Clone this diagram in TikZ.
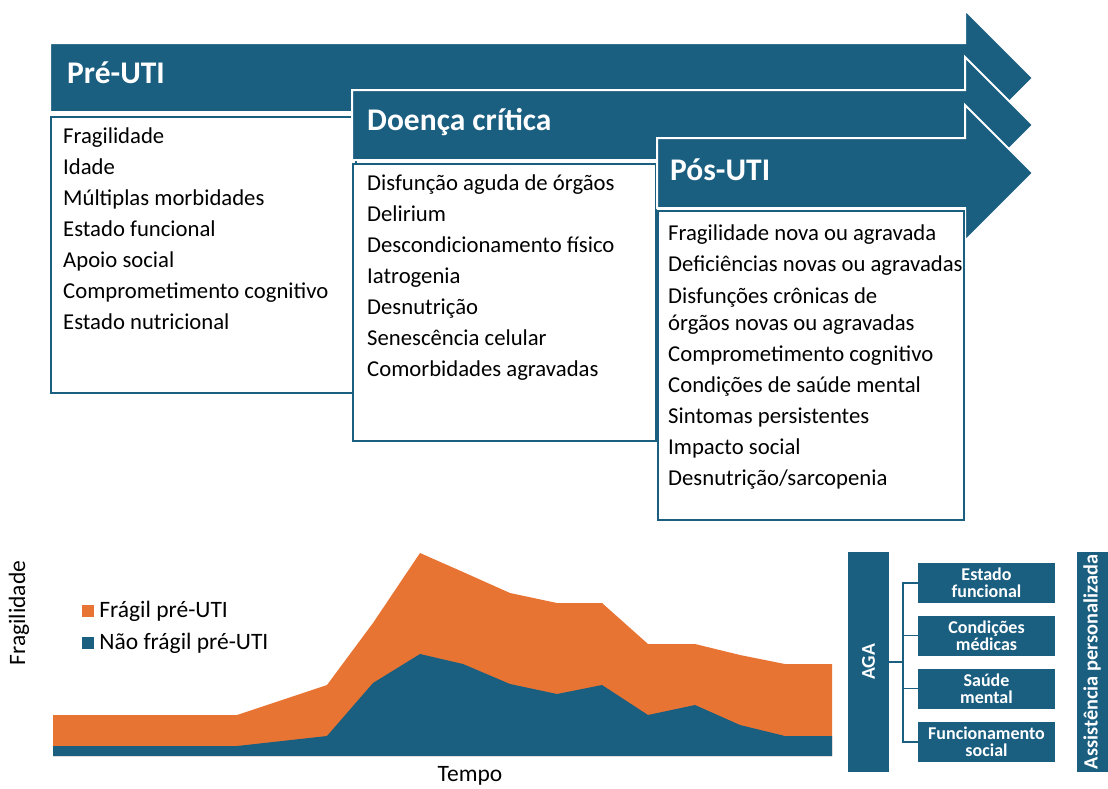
\documentclass[tikz,border=0pt]{standalone}
\usepackage{fontspec}
\setmainfont{Carlito}
\usetikzlibrary{positioning}
\definecolor{petrol}{RGB}{26,94,128}
\definecolor{laranja}{RGB}{232,116,51}
\tikzset{
  faixa/.style={fill=petrol, draw=white, line width=2pt},
  titulo/.style={anchor=base west, text=white, inner sep=0pt,
                 font=\fontsize{31.5}{34}\selectfont\bfseries},
  lista/.style={draw=petrol, line width=1.5pt, fill=white, anchor=north west, inner sep=0pt},
  itens/.style={anchor=north west, align=left, inner sep=0pt,
                font=\fontsize{22.7}{31}\selectfont},
  quad/.style={minimum size=12pt, inner sep=0pt},
  legenda/.style={inner sep=0pt, font=\fontsize{23.5}{26}\selectfont},
  bloco/.style={fill=petrol, text=white, align=center, inner sep=0pt,
                font=\fontsize{18}{17}\selectfont\bfseries},
  ligacao/.style={draw=petrol, line width=1.5pt}}

\begin{document}
\begin{tikzpicture}[x=1pt, y=-1pt]
  \useasboundingbox (0,0) rectangle (1108,788);
  % fases
  \path[faixa] (50,43) -- (965,43) -- (965,10) -- (1033,78) -- (965,146) -- (965,112) -- (50,112) -- cycle;
  \node[titulo] (tPre) at (67,83) {Pré-UTI};
  \node[lista, minimum width=305, minimum height=276] (cPre) at (50,116) {};
  \node[itens] (iPre) at ([xshift=13pt,yshift=-11.5pt]cPre.north west)
    {Fragilidade\\Idade\\Múltiplas morbidades\\Estado funcional\\Apoio social\\Comprometimento cognitivo\\Estado nutricional};

  \path[faixa] (352,90) -- (965,90) -- (965,57) -- (1033,125) -- (965,193) -- (965,160) -- (352,160) -- cycle;
  \node[titulo] (tDoenca) at (367,130) {Doença crítica};
  \node[lista, minimum width=303, minimum height=277] (cDoenca) at (352,163) {};
  \node[itens] (iDoenca) at ([xshift=15pt,yshift=-11.5pt]cDoenca.north west)
    {Disfunção aguda de órgãos\\Delirium\\Descondicionamento físico\\Iatrogenia\\Desnutrição\\Senescência celular\\Comorbidades agravadas};

  \path[faixa] (657,138) -- (965,138) -- (965,105) -- (1033,173) -- (965,241) -- (965,208) -- (657,208) -- cycle;
  \node[titulo] (tPos) at (670,180) {Pós-UTI};
  \node[lista, minimum width=306, minimum height=309] (cPos) at (657,210) {};
  \node[itens] (iPos) at ([xshift=11pt,yshift=-14.5pt]cPos.north west)
    {Fragilidade nova ou agravada\\Deficiências novas ou agravadas\\[1pt]Disfunções crônicas de\\[-4pt]órgãos novas ou agravadas\\Comprometimento cognitivo\\Condições de saúde mental\\Sintomas persistentes\\Impacto social\\Desnutrição/sarcopenia};

  % grafico
  \fill[laranja] (53,756) -- (53,715) -- (237,715) -- (327,685) -- (373,623) -- (420,553) -- (463,572)
    -- (510,593) -- (557,603) -- (602,603) -- (648,644) -- (695,644) -- (740,655) -- (785,664)
    -- (832,664) -- (832,756) -- cycle;
  \fill[petrol] (53,756) -- (53,746) -- (237,746) -- (327,736) -- (373,683) -- (420,654) -- (463,664)
    -- (510,684) -- (557,694) -- (602,685) -- (648,715) -- (695,705) -- (740,725) -- (785,736)
    -- (832,736) -- (832,756) -- cycle;
  \node[quad, fill=laranja] (qFragil) at (88,611) {};
  \node[legenda, right=5pt of qFragil] (lFragil) {Frágil pré-UTI};
  \node[quad, fill=petrol] (qNao) at (88,643) {};
  \node[legenda, right=5pt of qNao] (lNao) {Não frágil pré-UTI};
  \node[legenda, rotate=90] (eixoY) at (19,613) {Fragilidade};
  \node[legenda] (eixoX) at (470,776) {Tempo};

  % avaliacao
  \node[bloco, rotate=90, minimum width=220, minimum height=41, font=\fontsize{19.5}{20}\selectfont\bfseries] (aga) at (868.5,662) {AGA};
  \node[bloco, minimum width=137, minimum height=40] (estado) at (986.5,583) {Estado\\funcional};
  \node[bloco, minimum width=137, minimum height=40] (condicoes) at (986.5,635.5) {Condições\\médicas};
  \node[bloco, minimum width=137, minimum height=40] (saude) at (986.5,688.5) {Saúde\\mental};
  \node[bloco, minimum width=137, minimum height=40] (social) at (986.5,742) {Funcionamento\\social};
  \coordinate (chave) at (903,662);
  \draw[ligacao] (aga.south) -- (chave);
  \draw[ligacao] (estado.west) -| (chave) |- (social.west);
  \draw[ligacao] (chave) |- (condicoes.west);
  \draw[ligacao] (chave) |- (saude.west);
  \node[bloco, rotate=90, minimum width=220, minimum height=31, font=\fontsize{20.3}{20}\selectfont\bfseries] (assist) at (1092,662) {Assistência personalizada};
\end{tikzpicture}
\end{document}
